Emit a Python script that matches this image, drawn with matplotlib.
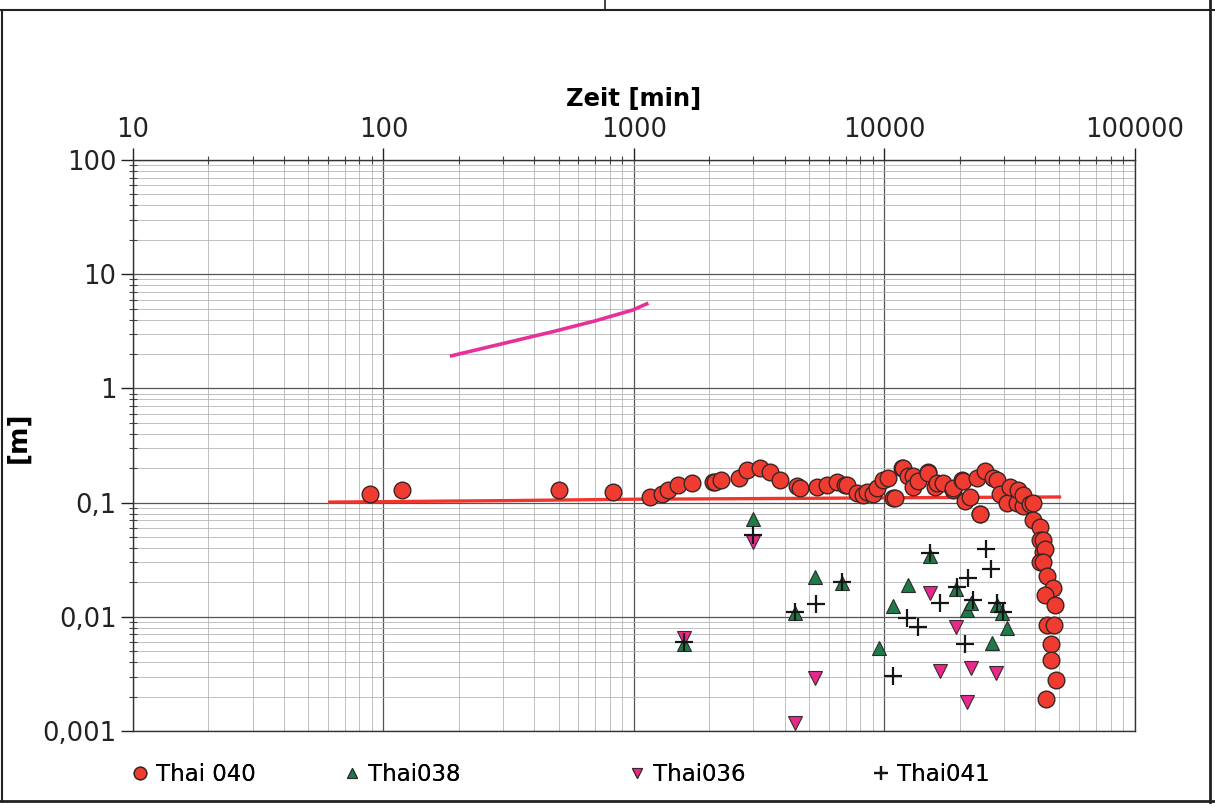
import matplotlib
matplotlib.use("Agg")
import matplotlib.pyplot as plt
from matplotlib.lines import Line2D
from matplotlib.ticker import FixedLocator, LogLocator, NullFormatter

# Thai 040 - Messpunkte (Kreise)
t040 = [88, 119, 501, 826, 1159, 1290, 1372, 1503, 1713, 2073, 2103, 2218,
        2633, 2818, 3184, 3491, 3828, 4465, 4605, 5360, 5876, 6442, 6950,
        7063, 7744, 8225, 8490, 9020, 9310, 9890, 10350, 10840, 11010, 11750,
        11890, 12450, 13030, 13030, 13650, 14960, 14960, 15880, 16150, 17160,
        18820, 18820, 20330, 20640, 20950, 21950, 23330, 24060, 24060, 25190,
        27190, 28050, 28900, 30760, 31700, 33700, 34200, 35830, 35830, 38100,
        39290, 39290, 41770, 41770, 43070, 43070, 43720, 41770, 43070, 44450,
        47240, 43720, 47990, 44450, 47700, 46440, 46440, 48300, 44150]
s040 = [0.12, 0.13, 0.13, 0.124, 0.113, 0.12, 0.13, 0.143, 0.148, 0.15, 0.15, 0.158,
        0.163, 0.193, 0.2, 0.187, 0.158, 0.14, 0.134, 0.136, 0.143, 0.15, 0.143,
        0.143, 0.122, 0.117, 0.123, 0.12, 0.134, 0.158, 0.163, 0.11, 0.11, 0.2,
        0.2, 0.17, 0.17, 0.137, 0.153, 0.187, 0.18, 0.137, 0.148, 0.148,
        0.129, 0.134, 0.158, 0.153, 0.104, 0.113, 0.163, 0.08, 0.08, 0.19,
        0.163, 0.158, 0.12, 0.1, 0.137, 0.1, 0.129, 0.094, 0.117, 0.098,
        0.1, 0.07, 0.061, 0.047, 0.047, 0.037, 0.039, 0.03, 0.03, 0.0228,
        0.018, 0.0156, 0.0127, 0.0085, 0.0085, 0.0058, 0.0042, 0.0028, 0.0019]

# Thai038 (Dreiecke gruen)
t038 = [1588, 2994, 4395, 5285, 6745, 9530, 10840, 12450, 15200, 19400, 21280,
        22270, 26800, 28050, 29380, 30760]
s038 = [0.0058, 0.0714, 0.0107, 0.0224, 0.0196, 0.0053, 0.0124, 0.019, 0.034,
        0.0174, 0.0115, 0.0133, 0.0059, 0.0127, 0.0107, 0.008]

# Thai036 (Dreiecke pink)
t036 = [1588, 2994, 4395, 5285, 15200, 16680, 19400, 21280, 22270, 27870]
s036 = [0.0065, 0.0455, 0.00117, 0.0029, 0.016, 0.00335, 0.0082, 0.0018,
        0.00354, 0.0032]

# Thai041 (Kreuze)
t041 = [1588, 2994, 4395, 5330, 6745, 10840, 12270, 13650, 15200, 16680, 19550,
        20950, 21640, 22650, 25410, 26600, 28050, 29780]
s041 = [0.006, 0.052, 0.0111, 0.0129, 0.0203, 0.00305, 0.0097, 0.0082, 0.036,
        0.0133, 0.0184, 0.0058, 0.0217, 0.014, 0.039, 0.026, 0.0131, 0.0111]

# Ausgleichslinien
t_rot = [61, 300, 1000, 5000, 20000, 50000]
s_rot = [0.101, 0.104, 0.107, 0.109, 0.111, 0.112]
t_pink = [187, 300, 475, 700, 990, 1125]
s_pink = [1.93, 2.47, 3.14, 3.9, 4.86, 5.5]

xticks = [10, 100, 1000, 10000, 100000]
xlabels = ["10", "100", "1000", "10000", "100000"]
yticks = [0.001, 0.01, 0.1, 1, 10, 100]
ylabels = ["0,001", "0,01", "0,1", "1", "10", "100"]

plt.rcParams['font.family'] = ['DejaVu Sans']

fig = plt.figure(figsize=(12.15, 8.08), dpi=100)
ax = fig.add_axes([0.1095, 0.0953, 0.8245, 0.7067])

ax.set_xscale('log')
ax.set_yscale('log')
ax.set_xlim(10, 100000)
ax.set_ylim(0.001, 100)

ax.plot(t_rot, s_rot, color='#f2352c', lw=2.4, zorder=3)
ax.plot(t_pink, s_pink, color='#e8309a', lw=2.6, zorder=3)

h040, = ax.plot(t040, s040, 'o', ms=12, mfc='#f03c30', mec='#3a2525', mew=1.0,
                zorder=4)
h038, = ax.plot(t038, s038, '^', ms=10.5, mfc='#1e7a48', mec='#2a2a2a', mew=0.8,
                zorder=5)
h036, = ax.plot(t036, s036, 'v', ms=10.5, mfc='#e8288c', mec='#3a2a2a', mew=0.8,
                zorder=5)
h041, = ax.plot(t041, s041, '+', ms=13, color='#151515', mew=1.6, zorder=6)

# Achsen
ax.xaxis.tick_top()
ax.xaxis.set_label_position('top')
ax.xaxis.set_major_locator(FixedLocator(xticks))
ax.set_xticklabels(xlabels)
ax.yaxis.set_major_locator(FixedLocator(yticks))
ax.set_yticklabels(ylabels)
ax.xaxis.set_minor_locator(LogLocator(base=10, subs=range(2, 10), numticks=20))
ax.yaxis.set_minor_locator(LogLocator(base=10, subs=range(2, 10), numticks=20))
ax.xaxis.set_minor_formatter(NullFormatter())
ax.yaxis.set_minor_formatter(NullFormatter())

ax.tick_params(which='major', direction='out', length=9, width=1.0,
               labelsize=18.5, colors='#222222', pad=3)
ax.tick_params(which='minor', direction='inout', length=6, width=0.8,
               colors='#444444')

ax.grid(which='major', color='#555555', lw=0.9)
ax.grid(which='minor', color='#b5b5b5', lw=0.6)
ax.set_axisbelow(True)
for sp in ax.spines.values():
    sp.set_color('#333333')
    sp.set_linewidth(1.0)

ax.set_xlabel('Zeit [min]', fontsize=17.5, fontweight='bold', labelpad=8)
fig.text(0.015, 0.459, '[m]', rotation=90, fontsize=19, fontweight='bold',
         ha='center', va='center')

# Legende: vier Einträge, einzeln platziert
eintraege = [(h040, 'Thai 040', 0.099), (h038, 'Thai038', 0.274),
             (h036, 'Thai036', 0.508), (h041, 'Thai041', 0.709)]
for h, name, xpos in eintraege:
    leg = fig.legend([h], [name], loc='center left', bbox_to_anchor=(xpos, 0.041),
                     frameon=False, fontsize=16.5, handletextpad=0.25,
                     handlelength=0.9, markerscale=0.75, borderaxespad=0)
    fig.add_artist(leg)

# Rahmen
lc = '#222222'
fig.add_artist(Line2D([0, 1], [0.9876, 0.9876], color=lc, lw=1.5))
fig.add_artist(Line2D([0.498, 0.498], [0.9876, 1], color=lc, lw=1.2))
fig.add_artist(Line2D([0.9959, 0.9959], [0.008, 1], color=lc, lw=2))
fig.add_artist(Line2D([0, 1], [0.009, 0.009], color=lc, lw=2))
fig.add_artist(Line2D([0.002, 0.002], [0.009, 0.9876], color=lc, lw=1.5))

fig.savefig('out.png', dpi=100)
